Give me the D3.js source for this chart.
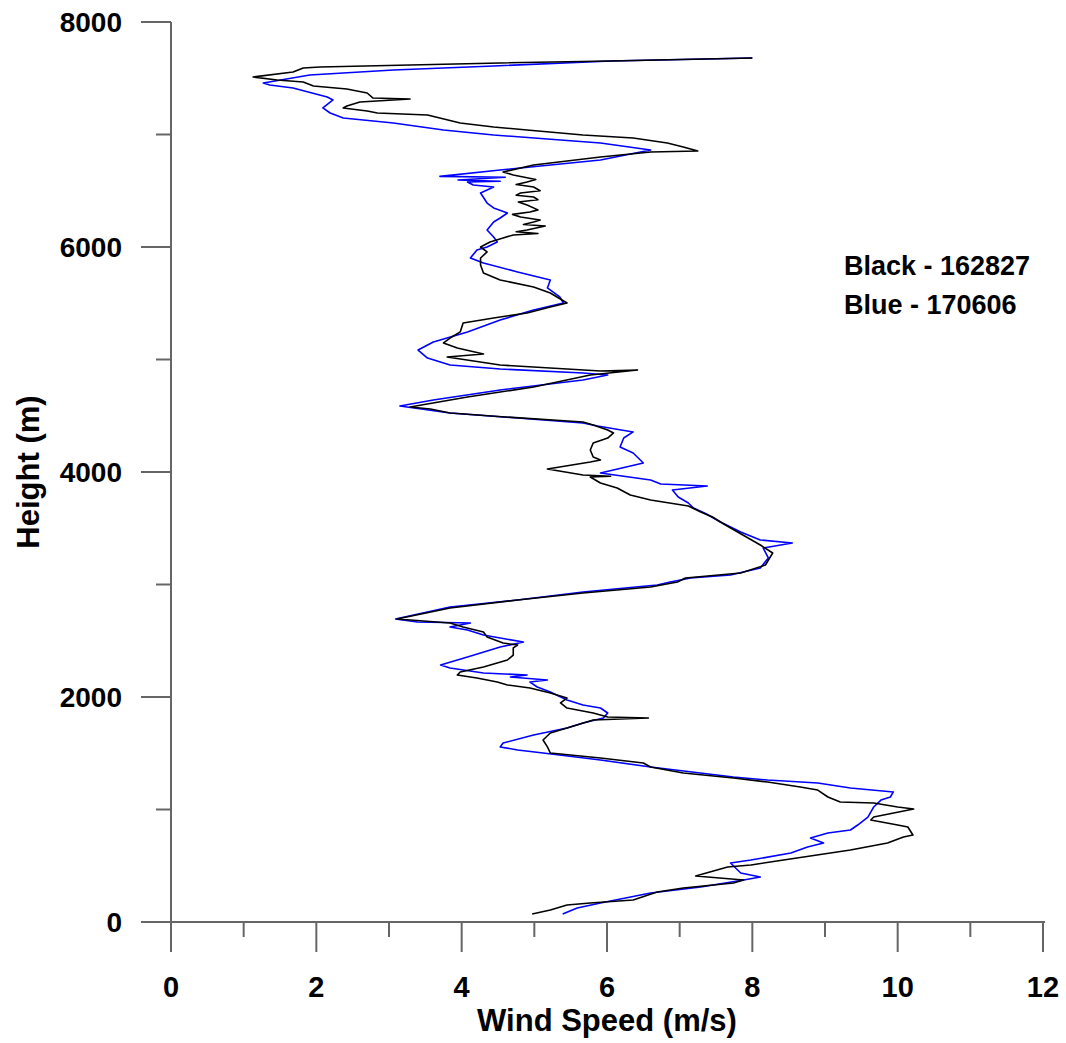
<!DOCTYPE html>
<html>
<head>
<meta charset="utf-8">
<script src="https://cdn.jsdelivr.net/npm/d3@7"></script>
<style>
  body { margin: 0; background: #fff; }
  text { font-family: "Liberation Sans", Arial, sans-serif; font-weight: bold; fill: #000; }
</style>
</head>
<body>
<div id="profile-chart"></div>
<script>
// Sounding 162827 (black)
const blackHeight = [71, 107, 151, 169, 196, 267, 302, 347, 373, 409, 489, 507, 551, 640, 702, 756, 773, 844, 862, 907,
    933, 1004, 1022, 1058, 1067, 1111, 1173, 1200, 1244, 1280, 1324, 1378, 1413, 1458, 1502, 1556, 1618, 1680, 1724, 1796,
    1813, 1822, 1858, 1902, 1947, 1991, 2036, 2080, 2107, 2133, 2169, 2196, 2222, 2267, 2329, 2373, 2436, 2462, 2480, 2533,
    2578, 2622, 2658, 2693, 2791, 2862, 2924, 2978, 3022, 3058, 3102, 3173, 3280, 3351, 3440, 3529, 3600, 3644, 3698, 3751,
    3796, 3858, 3902, 3956, 3962, 3973, 4027, 4089, 4107, 4133, 4196, 4258, 4302, 4347, 4373, 4418, 4444, 4489, 4524, 4560,
    4578, 4667, 4756, 4862, 4907, 4898, 4916, 4951, 5022, 5049, 5102, 5147, 5191, 5245, 5325, 5369, 5413, 5467, 5502, 5591,
    5644, 5707, 5769, 5840, 5902, 5956, 6000, 6044, 6080, 6107, 6120, 6135, 6151, 6187, 6200, 6222, 6240, 6267, 6290, 6311,
    6330, 6373, 6400, 6420, 6444, 6460, 6480, 6500, 6533, 6555, 6578, 6600, 6640, 6667, 6729, 6800, 6844, 6853, 6889, 6924,
    6969, 6996, 7040, 7067, 7102, 7173, 7191, 7209, 7236, 7253, 7289, 7316, 7324, 7369, 7404, 7431, 7467, 7476, 7484, 7511,
    7556, 7591, 7600, 7636, 7653, 7680];
const blackSpeed = [4.97, 5.22, 5.45, 5.77, 6.36, 6.69, 7.05, 7.74, 7.88, 7.22, 7.66, 7.98, 8.43, 9.35, 9.86, 10.08, 10.21, 10.14, 10.0, 9.63,
    9.67, 10.22, 10.0, 9.67, 9.21, 9.04, 8.9, 8.66, 8.21, 7.74, 7.05, 6.6, 6.5, 5.91, 5.22, 5.18, 5.12, 5.22, 5.45, 5.81,
    6.57, 6.01, 5.81, 5.45, 5.36, 5.45, 5.22, 4.94, 4.63, 4.49, 4.21, 3.94, 3.98, 4.3, 4.63, 4.71, 4.71, 4.77, 4.57, 4.35,
    4.3, 4.02, 3.84, 3.11, 3.84, 4.77, 5.67, 6.6, 6.97, 7.08, 7.84, 8.18, 8.28, 8.11, 7.87, 7.63, 7.45, 7.29, 7.12, 6.6,
    6.32, 6.14, 5.91, 5.77, 6.05, 5.67, 5.18, 5.77, 5.91, 5.81, 5.77, 5.81, 6.01, 6.09, 6.01, 5.81, 5.67, 4.6, 3.84, 3.57,
    3.29, 4.08, 4.99, 5.77, 6.42, 5.91, 5.45, 4.53, 3.8, 4.3, 3.94, 3.75, 3.84, 3.98, 4.02, 4.44, 4.9, 5.22, 5.45, 5.22,
    4.99, 4.53, 4.3, 4.26, 4.26, 4.35, 4.26, 4.39, 4.57, 4.71, 5.05, 4.75, 4.9, 5.15, 4.85, 4.99, 5.08, 4.81, 4.7, 4.94,
    5.05, 4.9, 4.78, 5.05, 4.99, 4.75, 4.81, 5.08, 4.99, 4.75, 4.9, 5.02, 4.71, 4.57, 4.99, 5.91, 6.6, 7.25, 7.05, 6.83,
    6.36, 5.67, 4.9, 4.44, 3.98, 3.53, 2.84, 2.7, 2.37, 2.42, 2.6, 3.29, 2.78, 2.7, 2.42, 1.96, 1.82, 1.64, 1.46, 1.13,
    1.68, 1.82, 2.05, 4.53, 6.05, 8.0];

// Sounding 170606 (blue)
const blueHeight = [71, 124, 169, 258, 311, 373, 400, 436, 524, 551, 613, 667, 702, 747, 791, 818, 862, 933, 1022, 1084,
    1111, 1156, 1191, 1236, 1262, 1289, 1378, 1440, 1502, 1529, 1556, 1591, 1662, 1724, 1769, 1813, 1858, 1902, 1929, 1973,
    2044, 2089, 2133, 2151, 2178, 2196, 2213, 2258, 2285, 2356, 2444, 2489, 2524, 2551, 2596, 2622, 2658, 2667, 2693, 2800,
    2862, 2933, 2996, 3022, 3058, 3084, 3147, 3236, 3324, 3369, 3396, 3467, 3556, 3627, 3680, 3724, 3778, 3840, 3876, 3893,
    3929, 3991, 4080, 4169, 4222, 4302, 4356, 4409, 4436, 4480, 4524, 4587, 4640, 4729, 4818, 4862, 4880, 4916, 4951, 5013,
    5084, 5156, 5245, 5351, 5440, 5502, 5556, 5636, 5707, 5778, 5858, 5902, 5973, 6000, 6044, 6089, 6151, 6222, 6258, 6302,
    6347, 6391, 6480, 6533, 6551, 6578, 6585, 6596, 6620, 6628, 6684, 6773, 6862, 6924, 6951, 6996, 7040, 7102, 7147, 7191,
    7236, 7307, 7333, 7413, 7440, 7458, 7529, 7573, 7609, 7653, 7680];
const blueSpeed = [5.39, 5.59, 5.91, 6.6, 7.29, 7.88, 8.11, 7.84, 7.7, 7.98, 8.53, 8.76, 8.98, 8.8, 9.04, 9.35, 9.45, 9.59, 9.67, 9.77,
    9.9, 9.94, 9.35, 8.9, 8.21, 7.74, 6.6, 5.91, 5.12, 4.77, 4.53, 4.57, 4.99, 5.45, 5.67, 5.95, 6.01, 5.91, 5.67, 5.45,
    5.22, 5.04, 4.94, 5.18, 4.67, 4.9, 4.3, 3.84, 3.71, 4.08, 4.53, 4.85, 4.53, 4.3, 4.08, 3.84, 4.12, 3.39, 3.09, 3.84,
    4.77, 5.67, 6.69, 6.87, 7.15, 7.7, 8.11, 8.22, 8.15, 8.55, 8.11, 7.84, 7.56, 7.37, 7.19, 7.12, 6.98, 6.9, 7.38, 6.74,
    6.6, 5.91, 6.5, 6.36, 6.18, 6.23, 6.36, 5.87, 5.67, 4.77, 3.84, 3.15, 3.61, 4.53, 5.67, 6.01, 5.67, 4.53, 3.84, 3.53,
    3.4, 3.61, 4.08, 4.53, 4.99, 5.4, 5.35, 5.18, 5.22, 4.77, 4.3, 4.12, 4.21, 4.35, 4.49, 4.44, 4.35, 4.44, 4.53, 4.63,
    4.44, 4.35, 4.26, 4.44, 4.16, 4.08, 4.53, 3.95, 4.6, 3.7, 4.53, 5.91, 6.6, 5.91, 5.36, 4.44, 3.75, 3.06, 2.37, 2.19,
    2.09, 2.23, 2.15, 1.68, 1.36, 1.27, 1.91, 3.06, 4.44, 6.05, 8.0];

const xTicks = [0, 2, 4, 6, 8, 10, 12];
const yTicks = [0, 2000, 4000, 6000, 8000];
const legendLines = ["Black - 162827", "Blue - 170606"];

function drawProfiles() {
    const width = 1066;
    const height = 1043;
    const axisColor = "#666";

    const svg = d3.select("#profile-chart")
        .append("svg")
        .attr("width", width)
        .attr("height", height);

    const xScale = d3.scaleLinear().domain([0, 12]).range([171, 1043]);
    const yScale = d3.scaleLinear().domain([0, 8000]).range([922, 22]);

    // X-axis: major ticks every 2, minor every 1
    const xAxis = svg.append("g").attr("transform", `translate(0,${yScale(0)})`);
    xAxis.append("line")
        .attr("x1", 141).attr("x2", xScale(12) + 2)
        .attr("stroke", axisColor).attr("stroke-width", 2);
    xAxis.selectAll(".xtick")
        .data(d3.range(0, 13))
        .enter()
        .append("line")
        .attr("x1", d => xScale(d)).attr("x2", d => xScale(d))
        .attr("y1", 0).attr("y2", d => d % 2 === 0 ? 30 : 15)
        .attr("stroke", axisColor).attr("stroke-width", 2);
    xAxis.selectAll(".xlabel")
        .data(xTicks)
        .enter()
        .append("text")
        .attr("x", d => xScale(d))
        .attr("y", 75)
        .attr("text-anchor", "middle")
        .style("font-size", "29px")
        .text(d => d);

    // Y-axis: major ticks every 2000, minor every 1000
    const yAxis = svg.append("g").attr("transform", `translate(${xScale(0)},0)`);
    yAxis.append("line")
        .attr("y1", yScale(8000)).attr("y2", yScale(0))
        .attr("stroke", axisColor).attr("stroke-width", 2);
    yAxis.selectAll(".ytick")
        .data(d3.range(0, 8001, 1000))
        .enter()
        .append("line")
        .attr("y1", d => yScale(d)).attr("y2", d => yScale(d))
        .attr("x1", d => d % 2000 === 0 ? -30 : -15).attr("x2", 0)
        .attr("stroke", axisColor).attr("stroke-width", 2);
    yAxis.selectAll(".ylabel")
        .data(yTicks)
        .enter()
        .append("text")
        .attr("x", -49)
        .attr("y", d => yScale(d) + 10)
        .attr("text-anchor", "end")
        .style("font-size", "28px")
        .text(d => d);

    // Axis titles
    svg.append("text")
        .attr("x", (xScale(0) + xScale(12)) / 2)
        .attr("y", 1031)
        .attr("text-anchor", "middle")
        .style("font-size", "31px")
        .text("Wind Speed (m/s)");
    svg.append("text")
        .attr("transform", `translate(39,${yScale(4000)}) rotate(-90)`)
        .attr("text-anchor", "middle")
        .style("font-size", "31px")
        .text("Height (m)");

    // Profiles
    const line = d3.line()
        .x(d => xScale(d[1]))
        .y(d => yScale(d[0]));

    const series = [
        {color: "#0000ff", points: d3.zip(blueHeight, blueSpeed)},
        {color: "#000000", points: d3.zip(blackHeight, blackSpeed)}
    ];

    svg.selectAll(".profile")
        .data(series)
        .enter()
        .append("path")
        .attr("d", d => line(d.points))
        .attr("fill", "none")
        .attr("stroke", d => d.color)
        .attr("stroke-width", 1.6)
        .attr("stroke-linejoin", "round");

    // Legend text
    svg.selectAll(".legend")
        .data(legendLines)
        .enter()
        .append("text")
        .attr("x", 844)
        .attr("y", (d, i) => 275 + i * 39)
        .style("font-size", "27px")
        .text(d => d);
}

drawProfiles();
</script>
</body>
</html>
